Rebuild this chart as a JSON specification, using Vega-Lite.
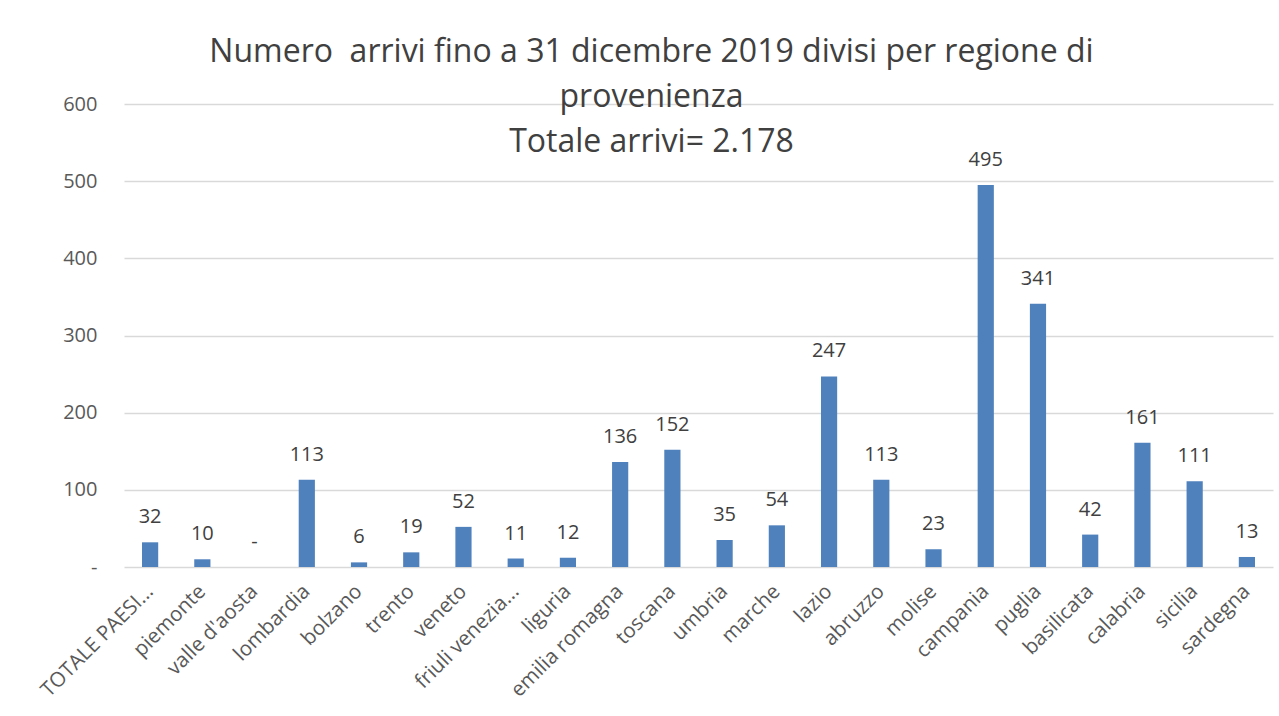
{
  "$schema": "https://vega.github.io/schema/vega-lite/v6.json",
  "autosize": "none",
  "width": 1149,
  "height": 463,
  "padding": {"left": 124, "top": 104, "right": 6, "bottom": 149},
  "background": "white",
  "config": {"view": {"stroke": null}, "font": "Open Sans"},
  "title": {
    "text": ["Numero \u00a0arrivi fino a 31 dicembre 2019 divisi per regione di", "provenienza", "Totale arrivi= 2.178"],
    "anchor": "middle",
    "frame": "group",
    "font": "Open Sans",
    "fontSize": 32,
    "fontWeight": "normal",
    "color": "#404040",
    "lineHeight": 45,
    "offset": -65,
    "dx": -47
  },
  "data": {
    "values": [
      {"regione": "TOTALE PAESI...", "arrivi": 32},
      {"regione": "piemonte", "arrivi": 10},
      {"regione": "valle d'aosta", "arrivi": 0},
      {"regione": "lombardia", "arrivi": 113},
      {"regione": "bolzano", "arrivi": 6},
      {"regione": "trento", "arrivi": 19},
      {"regione": "veneto", "arrivi": 52},
      {"regione": "friuli venezia...", "arrivi": 11},
      {"regione": "liguria", "arrivi": 12},
      {"regione": "emilia romagna", "arrivi": 136},
      {"regione": "toscana", "arrivi": 152},
      {"regione": "umbria", "arrivi": 35},
      {"regione": "marche", "arrivi": 54},
      {"regione": "lazio", "arrivi": 247},
      {"regione": "abruzzo", "arrivi": 113},
      {"regione": "molise", "arrivi": 23},
      {"regione": "campania", "arrivi": 495},
      {"regione": "puglia", "arrivi": 341},
      {"regione": "basilicata", "arrivi": 42},
      {"regione": "calabria", "arrivi": 161},
      {"regione": "sicilia", "arrivi": 111},
      {"regione": "sardegna", "arrivi": 13}
    ]
  },
  "encoding": {
    "x": {
      "field": "regione",
      "type": "nominal",
      "sort": null,
      "scale": {"paddingInner": 0.69, "paddingOuter": 0.345},
      "axis": {
        "title": null,
        "labelAngle": -45,
        "labelAlign": "right",
        "labelBaseline": "middle",
        "labelPadding": 21,
        "labelFont": "Open Sans",
        "labelFontSize": 20.5,
        "labelColor": "#595959",
        "ticks": false,
        "domain": false,
        "labelLimit": 300
      }
    },
    "y": {
      "field": "arrivi",
      "type": "quantitative",
      "scale": {"domain": [0, 600], "nice": false},
      "axis": {
        "title": null,
        "values": [0, 100, 200, 300, 400, 500, 600],
        "labelExpr": "datum.value == 0 ? '-' : datum.label",
        "labelFont": "Open Sans",
        "labelFontSize": 20,
        "labelColor": "#595959",
        "labelPadding": 27,
        "ticks": false,
        "domain": false,
        "gridColor": "#d9d9d9",
        "gridWidth": 1.5
      }
    }
  },
  "layer": [
    {"mark": {"type": "bar", "color": "#4f81bd"}},
    {
      "mark": {"type": "text", "baseline": "alphabetic", "dy": -19, "font": "Open Sans", "fontSize": 20, "color": "#404040"},
      "encoding": {
        "text": {"condition": {"test": "datum.arrivi == 0", "value": "-"}, "field": "arrivi", "type": "quantitative"}
      }
    }
  ]
}
